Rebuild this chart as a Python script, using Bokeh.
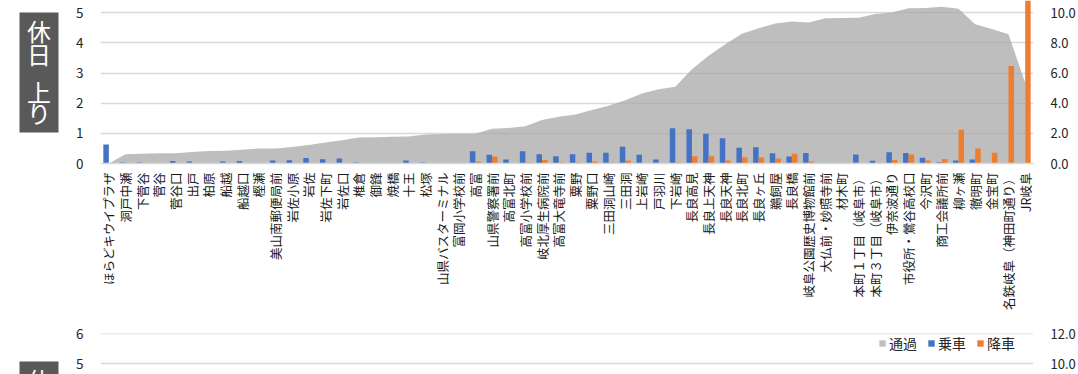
import math
from bokeh.plotting import figure
from bokeh.models import (ColumnDataSource, FactorRange, Range1d, LinearAxis,
                          FixedTicker, NumeralTickFormatter, Legend, LegendItem)
from bokeh.layouts import column, row
from bokeh.transform import dodge
from bokeh.core.properties import value
from bokeh.embed import file_html
from bokeh.resources import INLINE

# ---------------- data ----------------
stops = [
    "ほらどキウイプラザ", "洞戸中瀬", "下菅谷", "菅谷", "菅谷口", "出戸", "柏原", "船越", "船越口", "樫瀬",
    "美山南郵便局前", "岩佐小原", "岩佐", "岩佐下町", "岩佐口", "椎倉", "御鋒", "焼橋", "十王", "松塚",
    "山県バスターミナル", "富岡小学校前", "高富", "山県警察署前", "高富北町", "高富小学校前", "岐北厚生病院前",
    "高富大竜寺前", "粟野", "粟野口", "三田洞山崎", "三田洞", "上岩崎", "戸羽川", "下岩崎", "長良高見",
    "長良上天神", "長良天神", "長良北町", "長良ヶ丘", "鵜飼屋", "長良橋", "岐阜公園歴史博物館前",
    "大仏前・妙照寺前", "材木町", "本町１丁目（岐阜市）", "本町３丁目（岐阜市）", "伊奈波通り",
    "市役所・鶯谷高校口", "今沢町", "商工会議所前", "柳ヶ瀬", "徹明町", "金宝町", "名鉄岐阜（神田町通り）", "JR岐阜",
]

# 通過 (right axis)
passing = [
    0.0, 0.62, 0.65, 0.68, 0.68, 0.76, 0.83, 0.85, 0.92, 1.0,
    1.0, 1.1, 1.22, 1.4, 1.54, 1.72, 1.75, 1.77, 1.8, 1.92,
    1.96, 1.97, 1.97, 2.3, 2.36, 2.48, 2.88, 3.1, 3.26, 3.55,
    3.84, 4.2, 4.65, 4.93, 5.1, 6.25, 7.15, 7.92, 8.62, 8.97,
    9.3, 9.43, 9.36, 9.64, 9.66, 9.68, 9.92, 10.02, 10.3, 10.33,
    10.4, 10.28, 9.25, 8.92, 8.58, 5.36,
]
# 乗車 (left axis)
boarding = [
    0.63, 0.03, 0.03, 0.0, 0.08, 0.07, 0.02, 0.07, 0.08, 0.0,
    0.1, 0.11, 0.18, 0.14, 0.17, 0.03, 0.02, 0.02, 0.1, 0.03,
    0.0, 0.02, 0.41, 0.29, 0.13, 0.41, 0.31, 0.24, 0.31, 0.36,
    0.36, 0.56, 0.29, 0.13, 1.17, 1.14, 0.99, 0.84, 0.52, 0.54,
    0.34, 0.23, 0.35, 0.02, 0.0, 0.3, 0.09, 0.37, 0.35, 0.19,
    0.04, 0.1, 0.13, 0.01, 0.0, 0.0,
]
# 降車 (left axis)
alighting = [
    0.0, 0.0, 0.0, 0.0, 0.0, 0.0, 0.0, 0.0, 0.0, 0.0,
    0.0, 0.0, 0.0, 0.0, 0.0, 0.0, 0.0, 0.0, 0.0, 0.02,
    0.0, 0.0, 0.07, 0.23, 0.02, 0.03, 0.12, 0.03, 0.03, 0.07,
    0.03, 0.1, 0.02, 0.0, 0.03, 0.24, 0.24, 0.1, 0.2, 0.2,
    0.17, 0.32, 0.07, 0.0, 0.0, 0.01, 0.0, 0.12, 0.3, 0.1,
    0.15, 1.12, 0.5, 0.36, 3.24, 5.5,
]

# second panel: its bars/area lie below the visible strip -> not readable
hidden = [float("nan")] * len(stops)

left_ticks = [0, 1, 2, 3, 4, 5, 6]
right_ticks = [0, 2, 4, 6, 8, 10, 12]
series_names = ["通過", "乗車", "降車"]
panel_title_1 = ["休", "日", "上", "り"]
panel_title_2 = ["休"]

C_PASS = "#a5a5a5"
C_ON = "#4472c4"
C_OFF = "#ed7d31"
GRID = "#d9d9d9"
FONT = "Noto Sans CJK JP"
TXT = "#262626"


def style_chart(p):
    p.outline_line_color = None
    p.xgrid.grid_line_color = None
    p.ygrid.ticker = FixedTicker(ticks=left_ticks)
    p.ygrid.grid_line_color = GRID
    p.ygrid.grid_line_width = 1.3
    p.yaxis.ticker = FixedTicker(ticks=left_ticks)
    p.yaxis.axis_line_color = None
    p.yaxis.major_tick_line_color = None
    p.yaxis.minor_tick_line_color = None
    p.yaxis.major_label_text_font = FONT
    p.yaxis.major_label_text_font_size = "13.5px"
    p.yaxis.major_label_text_color = TXT
    p.yaxis.major_label_standoff = 11
    ra = LinearAxis(y_range_name="right", ticker=FixedTicker(ticks=right_ticks),
                    formatter=NumeralTickFormatter(format="0.0"))
    ra.axis_line_color = None
    ra.major_tick_line_color = None
    ra.minor_tick_line_color = None
    ra.major_label_text_font = FONT
    ra.major_label_text_font_size = "13px"
    ra.major_label_text_color = TXT
    ra.major_label_standoff = 11
    p.add_layout(ra, "right")


def add_series(p, source):
    r_pass = p.varea(x="stop", y1=0, y2="passing", source=source, y_range_name="right",
                     fill_color=C_PASS, fill_alpha=0.72)
    r_on = p.vbar(x=dodge("stop", -0.165, range=p.x_range), top="boarding", width=0.33,
                  source=source, fill_color=C_ON, line_color=None)
    r_off = p.vbar(x=dodge("stop", 0.165, range=p.x_range), top="alighting", width=0.33,
                   source=source, fill_color=C_OFF, line_color=None)
    return r_pass, r_on, r_off


# ---------------- chart 1 ----------------
src = ColumnDataSource(dict(stop=stops, passing=passing, boarding=boarding, alighting=alighting))

p1 = figure(x_range=FactorRange(*stops, range_padding=0), y_range=Range1d(0, 5.41),
            width=1008, height=318, output_backend="svg", toolbar_location=None,
            min_border_left=30, min_border_right=35, min_border_top=0, min_border_bottom=155,
            background_fill_color="white", border_fill_color="white")
p1.extra_y_ranges = {"right": Range1d(0, 10.82)}
add_series(p1, src)
style_chart(p1)
p1.xaxis.major_label_orientation = math.pi / 2
p1.xaxis.major_label_text_font = FONT
p1.xaxis.major_label_text_font_size = "12.5px"
p1.xaxis.major_label_text_color = "#1a1a1a"
p1.xaxis.major_label_standoff = 3
p1.xaxis.axis_line_color = GRID
p1.xaxis.axis_line_width = 1.3
p1.xaxis.major_tick_line_color = None
p1.xaxis.minor_tick_line_color = None

# ---------------- chart 2 (only its top strip is visible) ----------------
src2 = ColumnDataSource(dict(stop=stops, passing=hidden, boarding=hidden, alighting=hidden))
p2 = figure(x_range=FactorRange(*stops, range_padding=0), y_range=Range1d(4.642, 6.001),
            width=1008, height=56, output_backend="svg", toolbar_location=None,
            min_border_left=30, min_border_right=35, min_border_top=15, min_border_bottom=0,
            background_fill_color="white", border_fill_color="white")
p2.extra_y_ranges = {"right": Range1d(9.284, 12.002)}
r_pass, r_on, r_off = add_series(p2, src2)
style_chart(p2)
p2.xaxis.visible = False

legend = Legend(items=[LegendItem(label=series_names[0], renderers=[r_pass], index=0),
                       LegendItem(label=series_names[1], renderers=[r_on], index=0),
                       LegendItem(label=series_names[2], renderers=[r_off], index=0)],
                orientation="horizontal", location=(778, 21))
legend.glyph_width = 8
legend.glyph_height = 8
legend.label_standoff = 3
legend.spacing = 10
legend.padding = 0
legend.margin = 0
legend.border_line_color = None
legend.background_fill_alpha = 0
legend.label_text_font = FONT
legend.label_text_font_size = "14px"
legend.label_text_color = TXT
legend.label_height = 20
p2.add_layout(legend, "center")


# ---------------- side title boxes (frames aligned with the chart frames) ----------------
def title_box(height, top_b, bot_b, frame_h, box_top, box_bottom, chars, ys):
    b = figure(width=70, height=height, x_range=Range1d(0, 70), y_range=Range1d(frame_h, 0),
               output_backend="svg", toolbar_location=None,
               min_border_left=0, min_border_right=0, min_border_top=top_b, min_border_bottom=bot_b,
               background_fill_color="white", border_fill_color="white")
    b.axis.visible = False
    b.grid.visible = False
    b.outline_line_color = None
    b.quad(left=19, right=58, top=box_top, bottom=box_bottom, fill_color="#595959", line_color=None)
    b.text(x=[38.5] * len(chars), y=ys, text=chars, text_align="center", text_baseline="middle",
           text_color="white", text_font=value(FONT), text_font_size="24px")
    return b


b1 = title_box(318, 0, 155, 163, 12, 132, panel_title_1, [30, 53, 91, 112])
b2 = title_box(56, 15, 0, 41, 28, 160, panel_title_2, [46])

layout = column(row(b1, p1), row(b2, p2))
open("out.html", "w").write(file_html(layout, INLINE))
